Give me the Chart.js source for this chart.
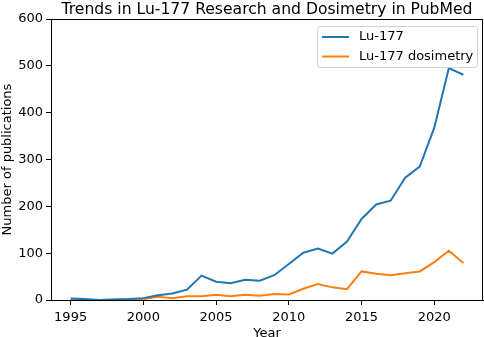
<!DOCTYPE html>
<html>
<head>
<meta charset="utf-8">
<script src="https://cdn.jsdelivr.net/npm/chart.js@4.4.1/dist/chart.umd.min.js"></script>
<style>
  html, body { margin: 0; padding: 0; background: #fff; }
  #wrap { width: 484px; height: 337px; }
</style>
</head>
<body>
<div id="wrap"><canvas id="myChart" width="484" height="337"></canvas></div>
<script>
// datos
const anios = [1995, 1996, 1997, 1998, 1999, 2000, 2001, 2002, 2003, 2004, 2005, 2006, 2007, 2008,
  2009, 2010, 2011, 2012, 2013, 2014, 2015, 2016, 2017, 2018, 2019, 2020, 2021, 2022];
const lu177 = [3, 2, 0, 1, 2, 4, 10, 14, 22, 52, 39, 36, 43, 41,
  53, 77, 101, 110, 99, 125, 173, 204, 212, 261, 285, 368, 495, 481];
const dosimetria = [0, 0, 0, 1, 1, 2, 7, 4, 8, 8, 11, 8, 11, 9,
  13, 12, 24, 34, 27, 23, 61, 56, 53, 57, 61, 81, 105, 79];
const ticksX = [1995, 2000, 2005, 2010, 2015, 2020];
const ticksY = [0, 100, 200, 300, 400, 500, 600];
const titulo = 'Trends in Lu-177 Research and Dosimetry in PubMed';

const fuente = "'DejaVu Sans', sans-serif";

// marco, titulo y leyenda dibujados a mano
const marco = {
  id: 'marco',
  afterDraw(chart) {
    const ctx = chart.ctx;
    const a = chart.chartArea;
    ctx.save();
    ctx.strokeStyle = '#000';
    ctx.lineWidth = 1;
    ctx.strokeRect(Math.round(a.left) + 0.5, Math.round(a.top) + 0.5,
      Math.round(a.right - a.left) - 1, Math.round(a.bottom - a.top));

    // titulo centrado sobre el area
    ctx.fillStyle = '#000';
    ctx.font = '15.6px ' + fuente;
    ctx.textAlign = 'center';
    ctx.textBaseline = 'alphabetic';
    ctx.fillText(titulo, (a.left + a.right) / 2, 13.5);

    // leyenda
    const x0 = 317, y0 = 26, w = 160, h = 41;
    ctx.fillStyle = 'rgba(255,255,255,0.8)';
    ctx.strokeStyle = '#d0d0d0';
    ctx.beginPath();
    ctx.roundRect(x0 + 0.5, y0 + 0.5, w, h, 3);
    ctx.fill();
    ctx.stroke();
    ctx.font = '13px ' + fuente;
    ctx.textAlign = 'left';
    ctx.textBaseline = 'middle';
    chart.data.datasets.forEach((ds, i) => {
      const yy = y0 + 11 + i * 19.5;
      ctx.strokeStyle = ds.borderColor;
      ctx.lineWidth = 2;
      ctx.beginPath();
      ctx.moveTo(x0 + 5, yy);
      ctx.lineTo(x0 + 32, yy);
      ctx.stroke();
      ctx.fillStyle = '#000';
      ctx.fillText(ds.label, x0 + 42, yy);
    });
    ctx.restore();
  }
};

const ctx = document.getElementById('myChart').getContext('2d');
const myChart = new Chart(ctx, {
  type: 'line',
  data: {
    datasets: [{
      label: 'Lu-177',
      data: anios.map((a, i) => ({ x: a, y: lu177[i] })),
      borderColor: '#1f77b4',
      borderWidth: 2,
      pointRadius: 0,
      tension: 0
    }, {
      label: 'Lu-177 dosimetry',
      data: anios.map((a, i) => ({ x: a, y: dosimetria[i] })),
      borderColor: '#ff7f0e',
      borderWidth: 2,
      pointRadius: 0,
      tension: 0
    }]
  },
  plugins: [marco],
  options: {
    responsive: false,
    animation: false,
    layout: { padding: { left: 0, right: 1, top: 19, bottom: 0 } },
    plugins: {
      legend: { display: false },
      tooltip: { enabled: false },
      title: { display: false }
    },
    scales: {
      x: {
        type: 'linear',
        min: 1993.65,
        max: 2023.35,
        afterBuildTicks(axis) { axis.ticks = ticksX.map(v => ({ value: v })); },
        ticks: {
          color: '#000', font: { family: fuente, size: 13 }, padding: 5, maxRotation: 0,
          callback: v => String(v)
        },
        grid: { drawOnChartArea: false, tickLength: 5, tickColor: '#000' },
        border: { color: '#000' },
        title: { display: true, text: 'Year', color: '#000', font: { family: fuente, size: 13 }, padding: { top: 0, bottom: -4 } },
        afterFit(axis) { axis.height = 37; }
      },
      y: {
        min: 0,
        max: 600,
        afterBuildTicks(axis) { axis.ticks = ticksY.map(v => ({ value: v })); },
        ticks: { color: '#000', font: { family: fuente, size: 13 }, padding: 3 },
        grid: { drawOnChartArea: false, tickLength: 5, tickColor: '#000' },
        border: { color: '#000' },
        title: { display: true, text: 'Number of publications', color: '#000', font: { family: fuente, size: 13 }, padding: { top: 0, bottom: 0 } },
        afterFit(axis) { axis.width = 51; }
      }
    }
  }
});
</script>
</body>
</html>
